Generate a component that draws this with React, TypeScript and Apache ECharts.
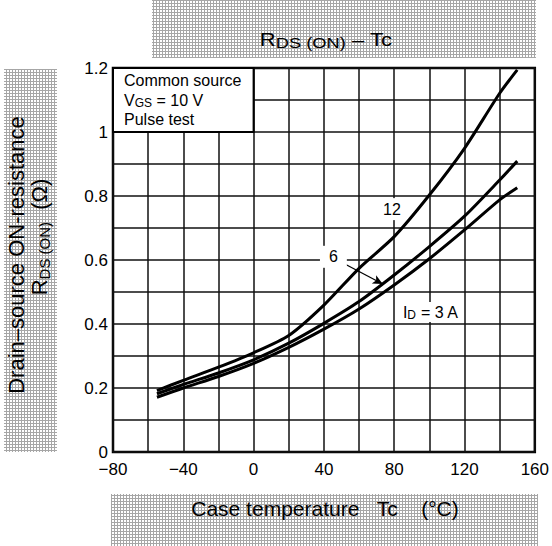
import React, { useEffect, useRef } from 'react';
import * as echarts from 'echarts';

// Case temperature (°C)
const temps = [-55, -40, -20, 0, 20, 40, 60, 80, 100, 120, 140, 150];
// RDS(ON) (Ω) for each drain current
const rdsId12 = [0.192, 0.224, 0.265, 0.31, 0.364, 0.459, 0.574, 0.673, 0.803, 0.949, 1.121, 1.194];
const rdsId6 = [0.182, 0.211, 0.247, 0.288, 0.34, 0.402, 0.47, 0.553, 0.642, 0.737, 0.85, 0.909];
const rdsId3 = [0.171, 0.2, 0.236, 0.277, 0.327, 0.384, 0.447, 0.522, 0.604, 0.694, 0.788, 0.826];

const xTickValues = [-80, -40, 0, 40, 80, 120, 160];
const xTickLabels = ['\u221280', '\u221240', '0', '40', '80', '120', '160'];
const yTickValues = [0, 0.2, 0.4, 0.6, 0.8, 1.0, 1.2];
const yTickLabels = ['0', '0.2', '0.4', '0.6', '0.8', '1', '1.2'];

// annotation anchors in data coordinates
const label12At = [78.7, 0.759];
const label6At = [45.4, 0.61];
const label3At = [100.7, 0.4375];
const arrowFrom = [51.9, 0.5875];
const arrowTo = [73.5, 0.525];
const conditionBox = [[-80, 1.2], [0, 1.0]];

const FONT = '"Liberation Sans", Arial, Helvetica, sans-serif';

function makePattern(): HTMLCanvasElement {
  const c = document.createElement('canvas');
  c.width = 3;
  c.height = 3;
  const ctx = c.getContext('2d')!;
  ctx.fillStyle = '#ffffff';
  ctx.fillRect(0, 0, 3, 3);
  ctx.fillStyle = '#a6a6a6';
  ctx.fillRect(0, 0, 1, 3);
  ctx.fillRect(0, 0, 3, 1);
  return c;
}

export default function App() {
  const ref = useRef<HTMLDivElement>(null);

  useEffect(() => {
    if (!ref.current) return;
    const chart = echarts.init(ref.current, null, { renderer: 'svg' });

    const lineSeries = (name: string, values: number[], extra: any = {}) => ({
      name,
      type: 'line',
      data: temps.map((t, i) => [t, values[i]]),
      showSymbol: false,
      smooth: 0.25,
      silent: true,
      lineStyle: { color: '#000', width: 3 },
      emphasis: { disabled: true },
      z: 3,
      ...extra,
    });

    chart.setOption({
      animation: false,
      backgroundColor: '#ffffff',
      grid: {
        left: 113,
        right: 14,
        top: 68,
        bottom: 94,
        show: true,
        borderColor: '#000',
        borderWidth: 2.5,
        backgroundColor: '#fff',
      },
      xAxis: {
        type: 'value',
        min: -80,
        max: 160,
        interval: 20,
        axisLine: { show: false },
        axisTick: { show: false },
        splitLine: { show: true, lineStyle: { color: '#111', width: 1.5 } },
        axisLabel: {
          margin: 9,
          fontSize: 17,
          fontFamily: FONT,
          color: '#000',
          formatter: (v: number) => {
            const i = xTickValues.indexOf(Math.round(v));
            return i >= 0 ? xTickLabels[i] : '';
          },
        },
      },
      yAxis: {
        type: 'value',
        min: 0,
        max: 1.2,
        interval: 0.1,
        axisLine: { show: false },
        axisTick: { show: false },
        splitLine: { show: true, lineStyle: { color: '#111', width: 1.5 } },
        axisLabel: {
          margin: 5,
          fontSize: 17,
          fontFamily: FONT,
          color: '#000',
          formatter: (v: number) => {
            const i = yTickValues.findIndex((t) => Math.abs(t - v) < 1e-6);
            return i >= 0 ? yTickLabels[i] : '';
          },
        },
      },
      series: [
        lineSeries('ID = 12 A', rdsId12, {
          markArea: {
            silent: true,
            label: { show: false },
            itemStyle: { color: '#fff', borderColor: '#000', borderWidth: 2 },
            data: [[{ coord: conditionBox[0] }, { coord: conditionBox[1] }]],
          },
        }),
        lineSeries('ID = 6 A', rdsId6, {
          markLine: {
            silent: true,
            symbol: ['none', 'arrow'],
            symbolSize: [7, 10],
            label: { show: false },
            lineStyle: { color: '#000', width: 1.3, type: 'solid' },
            data: [[{ coord: arrowFrom }, { coord: arrowTo }]],
          },
        }),
        lineSeries('ID = 3 A', rdsId3),
      ],
    });

    const px = (p: number[]) => chart.convertToPixel({ gridIndex: 0 }, p) as number[];
    const pattern = { image: makePattern(), repeat: 'repeat', imageWidth: 3, imageHeight: 3 };

    const boxTL = px(conditionBox[0]);
    const p12 = px(label12At);
    const p6 = px(label6At);
    const p3 = px(label3At);

    const Z = 100;

    chart.setOption({
      graphic: [
        // hatched bands
        { type: 'rect', silent: true, z: Z, shape: { x: 152, y: 0, width: 384, height: 58 }, style: { fill: pattern as any } },
        { type: 'rect', silent: true, z: Z, shape: { x: 4, y: 69, width: 53, height: 383 }, style: { fill: pattern as any } },
        { type: 'rect', silent: true, z: Z, shape: { x: 111, y: 494, width: 427, height: 52 }, style: { fill: pattern as any } },
        // title
        {
          type: 'text',
          x: 326,
          y: 40,
          scaleX: 1.22,
          silent: true,
          z: Z + 1,
          style: {
            text: '{m|R}{s|DS (ON)}{m| \u2013 Tc}',
            align: 'center',
            verticalAlign: 'middle',
            rich: {
              m: { fontSize: 18, fontFamily: FONT, fill: '#000', lineHeight: 22 },
              s: { fontSize: 15, fontFamily: FONT, fill: '#000', lineHeight: 8, verticalAlign: 'bottom' },
            },
          },
        },
        // x axis title
        {
          type: 'text',
          x: 325,
          y: 508,
          silent: true,
          z: Z + 1,
          style: {
            text: 'Case temperature\u00a0\u00a0\u00a0Tc\u00a0\u00a0\u00a0\u00a0(\u00b0C)',
            align: 'center',
            verticalAlign: 'middle',
            fontSize: 21,
            fontFamily: FONT,
            fill: '#000',
          },
        },
        // y axis title
        {
          type: 'text',
          x: 16.5,
          y: 255,
          rotation: Math.PI / 2,
          silent: true,
          z: Z + 1,
          style: {
            text: 'Drain\u2013source ON-resistance',
            align: 'center',
            verticalAlign: 'middle',
            fontSize: 22,
            fontFamily: FONT,
            fill: '#000',
          },
        },
        {
          type: 'text',
          x: 39,
          y: 237,
          rotation: Math.PI / 2,
          silent: true,
          z: Z + 1,
          style: {
            text: '{m|R}{s|DS (ON)}{m|\u00a0\u00a0(\u03a9)}',
            align: 'center',
            verticalAlign: 'middle',
            rich: {
              m: { fontSize: 22, fontFamily: FONT, fill: '#000', lineHeight: 26 },
              s: { fontSize: 15, fontFamily: FONT, fill: '#000', lineHeight: 15, verticalAlign: 'bottom' },
            },
          },
        },
        // condition box text
        {
          type: 'text',
          x: boxTL[0] + 11,
          y: boxTL[1] + 12,
          silent: true,
          z: Z + 1,
          style: { text: 'Common source', align: 'left', verticalAlign: 'middle', fontSize: 16, fontFamily: FONT, fill: '#000' },
        },
        {
          type: 'text',
          x: boxTL[0] + 11,
          y: boxTL[1] + 32,
          silent: true,
          z: Z + 1,
          style: {
            text: '{m|V}{s|GS}{m| = 10 V}',
            align: 'left',
            verticalAlign: 'middle',
            rich: {
              m: { fontSize: 16, fontFamily: FONT, fill: '#000', lineHeight: 18 },
              s: { fontSize: 12, fontFamily: FONT, fill: '#000', lineHeight: 11, verticalAlign: 'bottom' },
            },
          },
        },
        {
          type: 'text',
          x: boxTL[0] + 11,
          y: boxTL[1] + 51,
          silent: true,
          z: Z + 1,
          style: { text: 'Pulse test', align: 'left', verticalAlign: 'middle', fontSize: 16, fontFamily: FONT, fill: '#000' },
        },
        // curve labels
        {
          type: 'text',
          x: p12[0],
          y: p12[1],
          silent: true,
          z: Z + 1,
          style: {
            text: '12',
            align: 'center',
            verticalAlign: 'middle',
            fontSize: 16,
            fontFamily: FONT,
            fill: '#000',
            backgroundColor: '#fff',
            padding: [3, 1, 3, 1],
          },
        },
        {
          type: 'text',
          x: p6[0],
          y: p6[1],
          silent: true,
          z: Z + 1,
          style: {
            text: '6',
            align: 'center',
            verticalAlign: 'middle',
            fontSize: 16,
            fontFamily: FONT,
            fill: '#000',
            backgroundColor: '#fff',
            padding: [3, 9, 3, 9],
          },
        },
        {
          type: 'text',
          x: p3[0],
          y: p3[1],
          silent: true,
          z: Z + 1,
          style: {
            text: '{m|I}{s|D}{m| = 3 A}',
            align: 'center',
            verticalAlign: 'middle',
            backgroundColor: '#fff',
            padding: [1, 3, 1, 3],
            rich: {
              m: { fontSize: 16, fontFamily: FONT, fill: '#000', lineHeight: 18 },
              s: { fontSize: 12, fontFamily: FONT, fill: '#000', lineHeight: 11, verticalAlign: 'bottom' },
            },
          },
        },
      ],
    });

    return () => chart.dispose();
  }, []);

  return (
    <div
      ref={ref}
      style={{ position: 'fixed', left: 0, top: 0, width: 552, height: 546, background: '#fff' }}
    />
  );
}
